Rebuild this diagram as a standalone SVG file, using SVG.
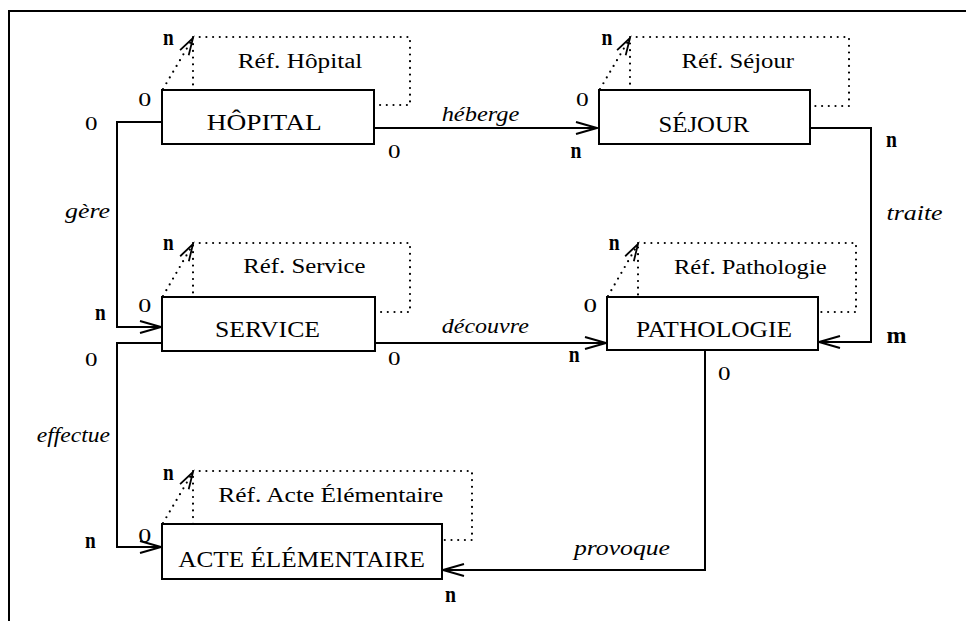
<svg xmlns="http://www.w3.org/2000/svg" width="966" height="621" viewBox="0 0 966 621">
<style>
.bx{fill:#fff;stroke:#000;stroke-width:2}
.ln{fill:none;stroke:#000;stroke-width:2}
.dt{fill:none;stroke:#000;stroke-width:2.2;stroke-linecap:round;stroke-dasharray:0 6.7}
text{font-family:"Liberation Serif","Times New Roman",serif;fill:#000}
.nm{font-size:23px}
.rf{font-size:20px}
.it{font-size:20px;font-style:italic}
.cn{font-size:23px;font-weight:bold}
.cz{font-size:19px}
</style>
<defs>
<marker id="ar" markerUnits="userSpaceOnUse" markerWidth="30" markerHeight="20" viewBox="-24 -10 30 20" refX="0" refY="0" orient="auto">
<path d="M-21,-6 L0,0 L-21,6" fill="none" stroke="#000" stroke-width="2"/>
</marker>
<marker id="as" markerUnits="userSpaceOnUse" markerWidth="24" markerHeight="20" viewBox="-20 -10 24 20" refX="0" refY="0" orient="auto">
<path d="M-17,-5 L0,0 L-17,5" fill="none" stroke="#000" stroke-width="1.8"/>
</marker>
</defs>
<rect width="966" height="621" fill="#fff"/>
<path d="M9,621 V11 H966" class="ln"/>

<g id="connectors">
<!-- self loops -->
<rect x="193" y="37" width="217" height="68" class="dt"/>
<path d="M163,89 L193,38" class="dt" marker-end="url(#as)"/>
<text class="cn" x="163" y="45" textLength="10.7" lengthAdjust="spacingAndGlyphs">n</text>
<text class="cz" x="138.3" y="106" textLength="13" lengthAdjust="spacingAndGlyphs">0</text>
<text class="rf" x="237.7" y="68.3" textLength="124.7" lengthAdjust="spacingAndGlyphs">Réf. Hôpital</text>

<rect x="630" y="37" width="219" height="69" class="dt"/>
<path d="M600,89 L630,38" class="dt" marker-end="url(#as)"/>
<text class="cn" x="601.5" y="45" textLength="10.9" lengthAdjust="spacingAndGlyphs">n</text>
<text class="cz" x="576.1" y="106" textLength="12.7" lengthAdjust="spacingAndGlyphs">0</text>
<text class="rf" x="681.4" y="68.3" textLength="112.6" lengthAdjust="spacingAndGlyphs">Réf. Séjour</text>

<rect x="193" y="243" width="217" height="69" class="dt"/>
<path d="M163,296 L193,244" class="dt" marker-end="url(#as)"/>
<text class="cn" x="163" y="250" textLength="10.7" lengthAdjust="spacingAndGlyphs">n</text>
<text class="cz" x="138.3" y="311.7" textLength="13" lengthAdjust="spacingAndGlyphs">0</text>
<text class="rf" x="243.3" y="273.3" textLength="122.3" lengthAdjust="spacingAndGlyphs">Réf. Service</text>

<rect x="638" y="243" width="218" height="69" class="dt"/>
<path d="M608,296 L638,244" class="dt" marker-end="url(#as)"/>
<text class="cn" x="608.8" y="250" textLength="10.9" lengthAdjust="spacingAndGlyphs">n</text>
<text class="cz" x="583.4" y="311.7" textLength="13.5" lengthAdjust="spacingAndGlyphs">0</text>
<text class="rf" x="674" y="274" textLength="152.6" lengthAdjust="spacingAndGlyphs">Réf. Pathologie</text>

<rect x="193" y="471" width="279" height="69" class="dt"/>
<path d="M163,523 L193,472" class="dt" marker-end="url(#as)"/>
<text class="cn" x="163" y="480" textLength="10.7" lengthAdjust="spacingAndGlyphs">n</text>
<text class="cz" x="138.3" y="541.7" textLength="13" lengthAdjust="spacingAndGlyphs">0</text>
<text class="rf" x="218.3" y="501.7" textLength="225" lengthAdjust="spacingAndGlyphs">Réf. Acte Élémentaire</text>

<!-- relations -->
<path d="M162,122 H117 V327 H161" class="ln" marker-end="url(#ar)"/>
<text class="cz" x="85" y="130" textLength="12.5" lengthAdjust="spacingAndGlyphs">0</text>
<text class="it" x="65" y="218" textLength="45" lengthAdjust="spacingAndGlyphs">gère</text>
<text class="cn" x="95" y="320" textLength="10.7" lengthAdjust="spacingAndGlyphs">n</text>

<path d="M374,128 H597" class="ln" marker-end="url(#ar)"/>
<text class="cz" x="388" y="158" textLength="12.5" lengthAdjust="spacingAndGlyphs">0</text>
<text class="it" x="441.7" y="120.7" textLength="77.6" lengthAdjust="spacingAndGlyphs">héberge</text>
<text class="cn" x="570.5" y="158.3" textLength="10.9" lengthAdjust="spacingAndGlyphs">n</text>

<path d="M810,128 H871 V342 H819" class="ln" marker-end="url(#ar)"/>
<text class="cn" x="886" y="146.7" textLength="10.9" lengthAdjust="spacingAndGlyphs">n</text>
<text class="it" x="886.6" y="220" textLength="56" lengthAdjust="spacingAndGlyphs">traite</text>
<text class="cn" x="886.6" y="343.3" textLength="20" lengthAdjust="spacingAndGlyphs">m</text>

<path d="M375,343 H606" class="ln" marker-end="url(#ar)"/>
<text class="cz" x="388" y="365" textLength="12.5" lengthAdjust="spacingAndGlyphs">0</text>
<text class="it" x="441.8" y="333.3" textLength="87" lengthAdjust="spacingAndGlyphs">découvre</text>
<text class="cn" x="568.8" y="362" textLength="10.9" lengthAdjust="spacingAndGlyphs">n</text>

<path d="M162,343 H117 V547 H161" class="ln" marker-end="url(#ar)"/>
<text class="cz" x="85" y="366" textLength="12.5" lengthAdjust="spacingAndGlyphs">0</text>
<text class="it" x="36.7" y="441.7" textLength="73.3" lengthAdjust="spacingAndGlyphs">effectue</text>
<text class="cn" x="85" y="548" textLength="10.7" lengthAdjust="spacingAndGlyphs">n</text>

<path d="M705,350 V570 H443" class="ln" marker-end="url(#ar)"/>
<text class="cz" x="718" y="380" textLength="12.5" lengthAdjust="spacingAndGlyphs">0</text>
<text class="it" x="574" y="555" textLength="96" lengthAdjust="spacingAndGlyphs">provoque</text>
<text class="cn" x="445" y="601.7" textLength="11" lengthAdjust="spacingAndGlyphs">n</text>
</g>

<g id="hopital">
<rect x="162" y="90" width="212" height="54" class="bx"/>
<text class="nm" x="206.7" y="130" textLength="115" lengthAdjust="spacingAndGlyphs">HÔPITAL</text>
</g>
<g id="sejour">
<rect x="599" y="90" width="211" height="54" class="bx"/>
<text class="nm" x="658.5" y="131.7" textLength="90.8" lengthAdjust="spacingAndGlyphs">SÉJOUR</text>
</g>
<g id="service">
<rect x="162" y="297" width="213" height="54" class="bx"/>
<text class="nm" x="215" y="337.3" textLength="105" lengthAdjust="spacingAndGlyphs">SERVICE</text>
</g>
<g id="pathologie">
<rect x="607" y="297" width="211" height="53" class="bx"/>
<text class="nm" x="636" y="337" textLength="156" lengthAdjust="spacingAndGlyphs">PATHOLOGIE</text>
</g>
<g id="acte">
<rect x="162" y="524" width="280" height="55" class="bx"/>
<text class="nm" x="178.3" y="566.7" textLength="246.7" lengthAdjust="spacingAndGlyphs">ACTE ÉLÉMENTAIRE</text>
</g>
</svg>
